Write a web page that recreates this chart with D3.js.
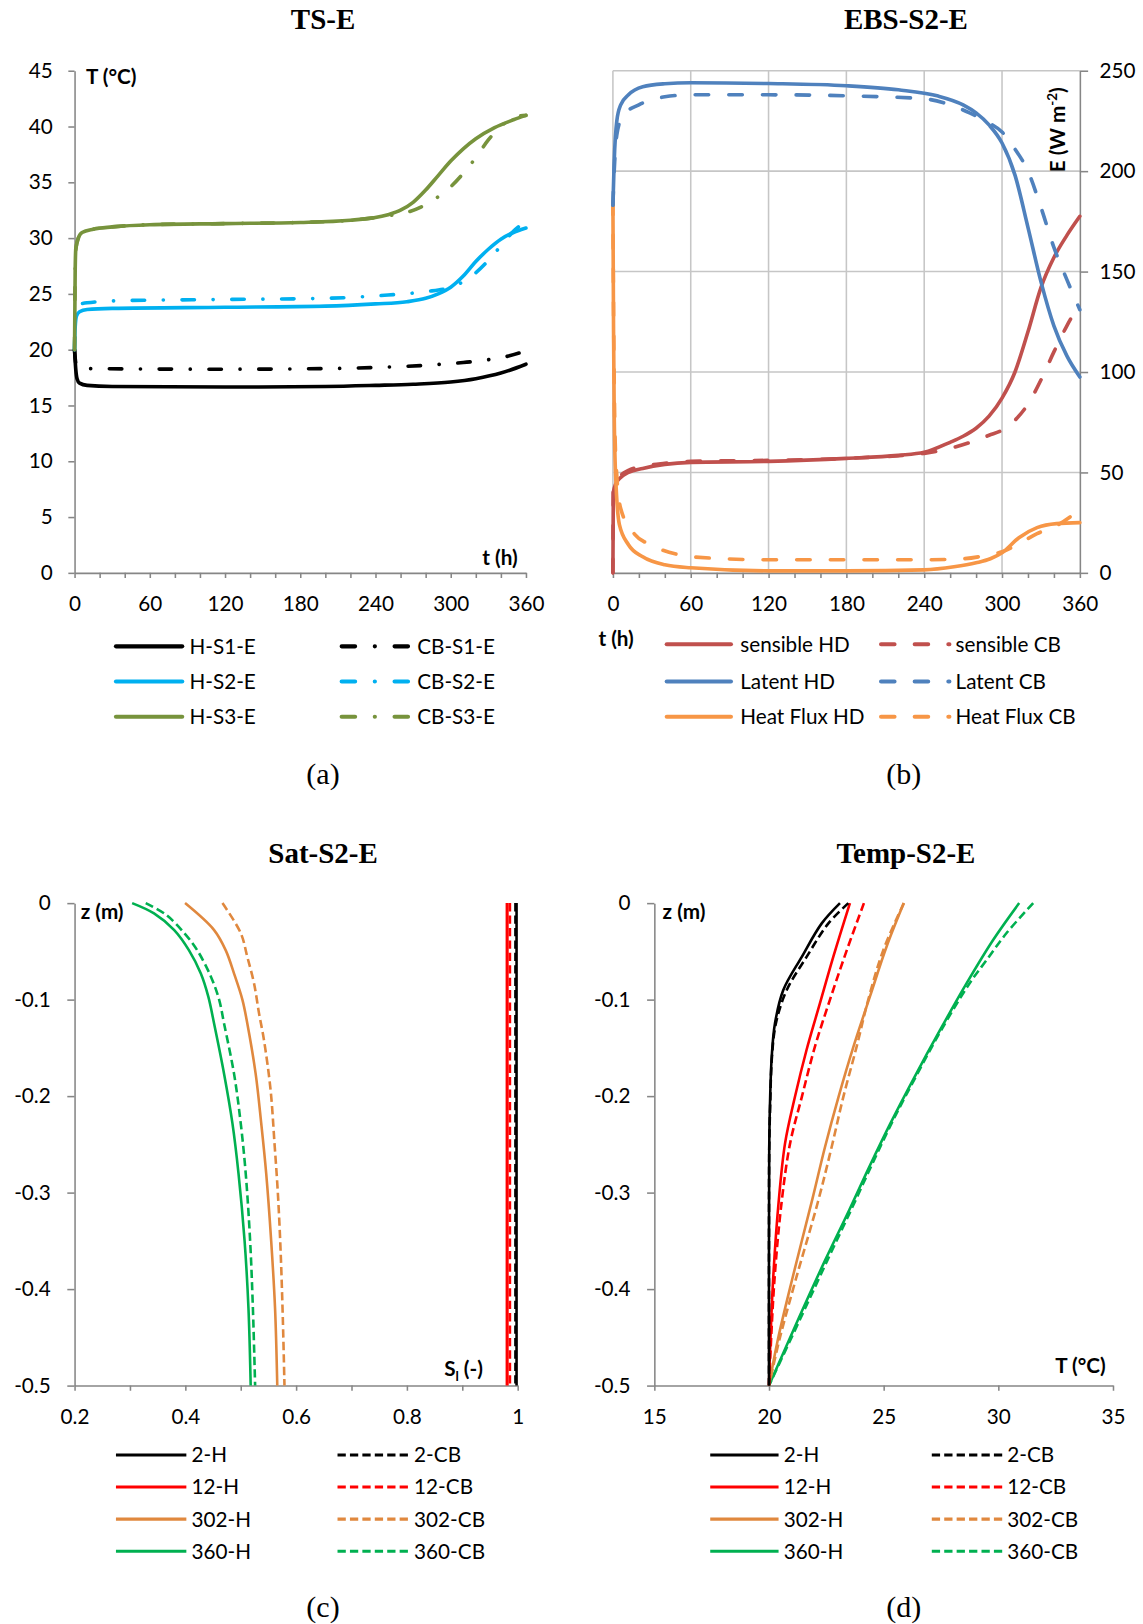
<!DOCTYPE html>
<html>
<head>
<meta charset="utf-8">
<script src="https://cdn.jsdelivr.net/npm/d3@7"></script>
<style>
body { margin: 0; background: #fff; }
svg text { font-family: Lato, "Open Sans", sans-serif; }
</style>
</head>
<body>
<script>
// ---------- (a) TS-E : surface temperature vs time ----------
const tsH_S1 = [[0,20],[1,18.2],[2,17.4],[4,17.0],[10,16.8],[30,16.7],[120,16.65],[200,16.7],[240,16.8],[270,16.9],[300,17.1],[320,17.4],[340,17.9],[360,18.7]];
const tsCB_S1 = [[0,20],[1,18.8],[3,18.4],[10,18.3],[120,18.25],[200,18.3],[240,18.4],[280,18.6],[310,18.85],[330,19.1],[345,19.4],[360,19.9]];
const tsH_S2 = [[0,20],[0.5,22],[1.5,23],[4,23.4],[10,23.6],[30,23.7],[120,23.8],[200,23.9],[240,24.1],[265,24.3],[280,24.6],[290,25.0],[300,25.6],[310,26.6],[320,27.9],[330,29.0],[340,29.9],[350,30.5],[360,30.9]];
const tsCB_S2 = [[0,20],[1,23.5],[3,24.0],[10,24.2],[40,24.4],[120,24.5],[200,24.6],[250,24.9],[280,25.2],[300,25.6],[310,26.1],[320,26.9],[330,28.0],[340,29.3],[350,30.6],[360,31.5]];
const tsH_S3 = [[0,20],[0.5,27],[1,29],[3,30.0],[6,30.5],[15,30.8],[30,31.0],[60,31.2],[120,31.3],[180,31.4],[220,31.6],[250,32.1],[260,32.5],[270,33.2],[280,34.3],[290,35.6],[300,36.9],[310,38.0],[320,38.9],[335,39.9],[350,40.6],[360,41.0]];
const tsCB_S3 = [[0,20],[0.5,27],[1,29],[3,30.0],[6,30.5],[15,30.8],[30,31.0],[60,31.2],[120,31.3],[180,31.4],[220,31.6],[250,32.0],[265,32.3],[280,33.0],[290,33.7],[300,34.6],[310,35.8],[320,37.2],[330,38.8],[340,40.0],[350,40.8],[360,41.0]];

// ---------- (b) EBS-S2-E : energy balance vs time ----------
const sensHD = [[0,0],[0.3,40],[2,44],[6,47.5],[12,50],[23,52],[40,54],[60,55],[120,55.5],[180,57],[220,58.5],[240,60],[260,65],[270,68],[280,72],[290,78],[300,87],[310,100],[320,120],[330,142],[340,157],[350,168],[360,177.5]];
const sensCB = [[0,0],[0.3,40],[2,45],[6,48.5],[12,51],[23,53],[40,54.5],[60,55.5],[120,56],[180,57],[240,59.5],[260,62],[280,66],[290,68.5],[300,71],[310,76],[320,84],[330,96],[340,110],[350,123],[360,134]];
const latHD = [[0,183],[1,205],[3,225],[6,233],[12,238],[23,242],[40,243.5],[60,244],[120,243.6],[180,242.5],[220,240.5],[250,237.5],[270,233],[280,229],[290,223],[300,214],[310,198],[320,172],[330,145],[340,123],[350,108],[360,97.5]];
const latCB = [[0,183],[1,200],[3,218],[8,228],[20,233],[40,237],[60,238],[120,238],[180,237.5],[240,236],[260,233],[275,229],[290,224],[300,219.5],[310,211],[320,200],[330,182],[340,162],[350,146],[360,131]];
const fluxHD = [[0,185],[0.5,120],[1,80],[2,50],[5,24],[12,14],[23,8],[40,4],[60,2.5],[120,1],[180,1],[240,1.5],[263,3],[280,5],[291,7],[300,10],[313,17.5],[327,22.5],[342,24.5],[360,25]];
const fluxCB = [[0,185],[0.5,130],[1,95],[2,60],[6,32],[17,19],[29,14],[51,9],[60,8],[120,6.5],[180,6.5],[240,6.5],[270,7],[290,9],[300,10.5],[313,14.5],[327,19.5],[342,23.5],[360,31.5]];

// ---------- (c) Sat-S2-E : saturation profiles [Sl, z] ----------
const satH2 = [[0.998,0],[0.998,-0.5]];
const satCB2 = [[0.996,0],[0.996,-0.5]];
const satH12 = [[0.981,0],[0.981,-0.5]];
const satCB12 = [[0.986,0],[0.986,-0.5]];
const satH302 = [[0.3995,0],[0.452,-0.028],[0.473,-0.049],[0.488,-0.073],[0.503,-0.1],[0.512,-0.125],[0.527,-0.177],[0.537,-0.228],[0.546,-0.28],[0.555,-0.35],[0.562,-0.42],[0.566,-0.5]];
const satCB302 = [[0.467,0],[0.500,-0.031],[0.512,-0.056],[0.524,-0.083],[0.533,-0.114],[0.542,-0.142],[0.554,-0.194],[0.561,-0.249],[0.567,-0.3],[0.572,-0.36],[0.576,-0.43],[0.579,-0.5]];
const satH360 = [[0.304,0],[0.3435,-0.0107],[0.380,-0.028],[0.4067,-0.049],[0.428,-0.073],[0.4415,-0.097],[0.452,-0.125],[0.470,-0.177],[0.485,-0.228],[0.496,-0.28],[0.507,-0.35],[0.514,-0.42],[0.518,-0.5]];
const satCB360 = [[0.3285,0],[0.365,-0.012],[0.398,-0.031],[0.4217,-0.049],[0.446,-0.076],[0.461,-0.1],[0.470,-0.125],[0.488,-0.177],[0.500,-0.228],[0.509,-0.28],[0.517,-0.35],[0.522,-0.42],[0.526,-0.5]];

// ---------- (d) Temp-S2-E : temperature profiles [T, z] ----------
const tempH2 = [[23.095,0],[22.30,-0.021],[21.43,-0.0557],[20.62,-0.0903],[20.26,-0.1248],[20.12,-0.159],[20.04,-0.211],[20.01,-0.256],[20.0,-0.35],[20.0,-0.5]];
const tempCB2 = [[23.46,0],[22.59,-0.021],[21.64,-0.0557],[20.77,-0.0903],[20.3,-0.1248],[20.13,-0.159],[20.05,-0.211],[20.01,-0.256],[20.0,-0.35],[20.0,-0.5]];
const tempH12 = [[23.53,0],[22.80,-0.056],[22.22,-0.104],[21.64,-0.152],[21.13,-0.201],[20.70,-0.249],[20.42,-0.31],[20.18,-0.39],[20.04,-0.468],[20,-0.5]];
const tempCB12 = [[24.14,0],[23.39,-0.049],[22.66,-0.1],[22.0,-0.149],[21.43,-0.201],[20.92,-0.249],[20.55,-0.31],[20.24,-0.39],[20.06,-0.468],[20,-0.5]];
const tempH302 = [[25.88,0],[25.13,-0.045],[24.40,-0.097],[23.68,-0.149],[23.03,-0.201],[22.44,-0.253],[21.9,-0.306],[21.02,-0.389],[20.39,-0.452],[20,-0.5]];
const tempCB302 = [[25.88,0],[24.98,-0.049],[24.33,-0.1],[23.82,-0.149],[23.24,-0.201],[22.73,-0.253],[22.13,-0.31],[21.18,-0.389],[20.46,-0.452],[20,-0.5]];
const tempH360 = [[30.91,0],[29.78,-0.038],[28.62,-0.083],[27.45,-0.132],[26.35,-0.18],[25.3,-0.228],[24.4,-0.272],[23.5,-0.318],[22.45,-0.37],[21.3,-0.43],[20,-0.5]];
const tempCB360 = [[31.52,0],[30.36,-0.031],[29.49,-0.059],[28.75,-0.083],[27.5,-0.132],[26.4,-0.18],[25.35,-0.228],[24.47,-0.272],[23.58,-0.318],[22.55,-0.37],[21.38,-0.43],[20,-0.5]];

// ticks
const tTicks = [0,20,40,60,80,100,120,140,160,180,200,220,240,260,280,300,320,340,360];
const tLabels = [0,60,120,180,240,300,360];
const tempTicksA = [0,5,10,15,20,25,30,35,40,45];
const eTicks = [0,50,100,150,200,250];
const satTicks = [0.2,0.3,0.4,0.5,0.6,0.7,0.8,0.9,1];
const satLabels = [0.2,0.4,0.6,0.8,1];
const zTicks = [0,-0.1,-0.2,-0.3,-0.4,-0.5];
const tempTicksD = [15,20,25,30,35];

var svg = d3.select("body").append("svg")
    .attr("width", 1143)
    .attr("height", 1624)
    .attr("viewBox", "0 0 1104 1568");

var axisGrey = "#868686";

function styleAxis(g) {
    g.select(".domain").attr("stroke", axisGrey).attr("stroke-width", 1.5);
    g.selectAll(".tick line").attr("stroke", axisGrey).attr("stroke-width", 1.5);
    g.selectAll(".tick text").attr("fill", "#000")
        .style("font-size", "20px").style("font-family", "Lato, sans-serif");
}

function labelIf(list) {
    return function(d) {
        return list.some(function(v) { return Math.abs(v - d) < 1e-9; }) ? String(+d.toFixed(2)) : "";
    };
}

function drawLine(x, y, data, color, width, dash, curve, cap) {
    svg.append("path").datum(data)
        .attr("fill", "none")
        .attr("stroke", color)
        .attr("stroke-width", width)
        .attr("stroke-dasharray", dash || null)
        .attr("stroke-linecap", cap || "butt")
        .attr("stroke-linejoin", "round")
        .attr("d", d3.line().x(function(d) { return x(d[0]); }).y(function(d) { return y(d[1]); }).curve(curve));
}

function title(txt, cx, by) {
    svg.append("text").attr("x", cx).attr("y", by)
        .attr("text-anchor", "middle")
        .style("font-family", "'Liberation Serif', serif")
        .style("font-weight", "bold").style("font-size", "28px")
        .text(txt);
}

function subLabel(txt, cx, by) {
    svg.append("text").attr("x", cx).attr("y", by)
        .attr("text-anchor", "middle")
        .style("font-family", "'Liberation Serif', serif")
        .style("font-size", "29px")
        .text(txt);
}

function boldLabel(txt, x, y, anchor) {
    return svg.append("text").attr("x", x).attr("y", y)
        .attr("text-anchor", anchor || "start")
        .style("font-weight", "bold").style("font-size", "20px")
        .text(txt);
}

function legend(items, rows, cols, width, cap) {
    items.forEach(function(it, i) {
        var c = cols[Math.floor(i / rows.length)], r = rows[i % rows.length];
        svg.append("line").attr("x1", c[0]).attr("x2", c[1]).attr("y1", r).attr("y2", r)
            .attr("stroke", it.color).attr("stroke-width", width)
            .attr("stroke-linecap", cap || "butt")
            .attr("stroke-dasharray", it.dash || null);
        svg.append("text").attr("x", c[2]).attr("y", r).attr("dy", "0.36em")
            .style("font-size", "20px").text(it.label);
    });
}

// ================= (a) =================
(function() {
    var x = d3.scaleLinear().domain([0, 360]).range([72, 508]);
    var y = d3.scaleLinear().domain([0, 45]).range([553, 68]);
    var dash = "12,18,0.1,18";

    svg.append("g").attr("transform", "translate(0,553)")
        .call(d3.axisBottom(x).tickValues(tTicks).tickSize(5).tickSizeOuter(0).tickPadding(18).tickFormat(labelIf(tLabels)))
        .call(styleAxis);
    svg.append("g").attr("transform", "translate(72,0)")
        .call(d3.axisLeft(y).tickValues(tempTicksA).tickSize(6).tickSizeOuter(0).tickPadding(15))
        .call(styleAxis);

    drawLine(x, y, tsH_S1, "#000000", 3.5, null, d3.curveMonotoneX, "round");
    drawLine(x, y, tsCB_S1, "#000000", 3.5, dash, d3.curveMonotoneX, "round");
    drawLine(x, y, tsH_S2, "#00B0F0", 3.5, null, d3.curveMonotoneX, "round");
    drawLine(x, y, tsCB_S2, "#00B0F0", 3.5, dash, d3.curveMonotoneX, "round");
    drawLine(x, y, tsH_S3, "#77933C", 3.5, null, d3.curveMonotoneX, "round");
    drawLine(x, y, tsCB_S3, "#77933C", 3.5, dash, d3.curveMonotoneX, "round");

    title("TS-E", 312, 28);
    boldLabel("T (°C)", 83, 81);
    boldLabel("t (h)", 500, 545, "end");

    var legDash = "13,19,0.1,19";
    legend([
        {label: "H-S1-E", color: "#000000"},
        {label: "H-S2-E", color: "#00B0F0"},
        {label: "H-S3-E", color: "#77933C"},
        {label: "CB-S1-E", color: "#000000", dash: legDash},
        {label: "CB-S2-E", color: "#00B0F0", dash: legDash},
        {label: "CB-S3-E", color: "#77933C", dash: legDash}
    ], [624, 658, 692], [[112, 176, 183], [330, 396, 403]], 4, "round");

    subLabel("(a)", 312, 757);
})();

// ================= (b) =================
(function() {
    var x = d3.scaleLinear().domain([0, 360]).range([592, 1043]);
    var y = d3.scaleLinear().domain([0, 250]).range([553, 68]);
    var dash = "13,19.5";

    // gridlines
    svg.append("g").selectAll("line").data(tLabels.slice(0, -1)).enter().append("line")
        .attr("x1", function(d) { return x(d); }).attr("x2", function(d) { return x(d); })
        .attr("y1", y(0)).attr("y2", y(250))
        .attr("stroke", "#c6c6c6").attr("stroke-width", 1.5);
    svg.append("g").selectAll("line").data(eTicks.slice(1)).enter().append("line")
        .attr("x1", x(0)).attr("x2", x(360))
        .attr("y1", function(d) { return y(d); }).attr("y2", function(d) { return y(d); })
        .attr("stroke", "#c6c6c6").attr("stroke-width", 1.5);

    svg.append("g").attr("transform", "translate(0,553)")
        .call(d3.axisBottom(x).tickValues(tTicks).tickSize(5).tickSizeOuter(0).tickPadding(18).tickFormat(labelIf(tLabels)))
        .call(styleAxis);
    svg.append("g").attr("transform", "translate(1043,0)")
        .call(d3.axisRight(y).tickValues(eTicks).tickSize(8).tickSizeOuter(0).tickPadding(11))
        .call(styleAxis);

    drawLine(x, y, sensHD, "#C0504D", 3.5, null, d3.curveMonotoneX, "round");
    drawLine(x, y, sensCB, "#C0504D", 3.5, dash, d3.curveMonotoneX, "round");
    drawLine(x, y, fluxHD, "#F79646", 3.5, null, d3.curveMonotoneX, "round");
    drawLine(x, y, fluxCB, "#F79646", 3.5, dash, d3.curveMonotoneX, "round");
    drawLine(x, y, latHD, "#4F81BD", 3.5, null, d3.curveMonotoneX, "round");
    drawLine(x, y, latCB, "#4F81BD", 3.5, dash, d3.curveMonotoneX, "round");

    title("EBS-S2-E", 875, 28);
    var e = boldLabel("", 0, 0, "middle").attr("transform", "translate(1029,125) rotate(-90)");
    e.append("tspan").text("E (W m");
    e.append("tspan").attr("dy", -8).style("font-size", "13px").text("-2");
    e.append("tspan").attr("dy", 8).text(")");
    boldLabel("t (h)", 578, 624);

    legend([
        {label: "sensible HD", color: "#C0504D"},
        {label: "Latent HD", color: "#4F81BD"},
        {label: "Heat Flux HD", color: "#F79646"},
        {label: "sensible CB", color: "#C0504D", dash: dash},
        {label: "Latent CB", color: "#4F81BD", dash: dash},
        {label: "Heat Flux CB", color: "#F79646", dash: dash}
    ], [622, 658, 692], [[644, 706, 715], [851, 917, 923]], 4, "round");

    subLabel("(b)", 873, 757);
})();

// ================= (c) =================
(function() {
    var x = d3.scaleLinear().domain([0.2, 1]).range([72, 500]);
    var y = d3.scaleLinear().domain([-0.5, 0]).range([1338, 872]);
    var dash = "8,4";
    var curve = d3.curveCatmullRom.alpha(0.5);

    svg.append("g").attr("transform", "translate(0,1338)")
        .call(d3.axisBottom(x).tickValues(satTicks).tickSize(5).tickSizeOuter(0).tickPadding(18).tickFormat(labelIf(satLabels)))
        .call(styleAxis);
    svg.append("g").attr("transform", "translate(72,0)")
        .call(d3.axisLeft(y).tickValues(zTicks).tickSize(7).tickSizeOuter(0).tickPadding(16).tickFormat(function(d) { return String(+d.toFixed(1)); }))
        .call(styleAxis);

    drawLine(x, y, satH360, "#00B050", 2.5, null, curve);
    drawLine(x, y, satCB360, "#00B050", 2.5, dash, curve);
    drawLine(x, y, satH302, "#E0883E", 2.5, null, curve);
    drawLine(x, y, satCB302, "#E0883E", 2.5, dash, curve);
    drawLine(x, y, satH12, "#FF0000", 3, null, d3.curveLinear);
    drawLine(x, y, satCB12, "#FF0000", 2.5, dash, d3.curveLinear);
    drawLine(x, y, satCB2, "#000000", 2.5, dash, d3.curveLinear);
    drawLine(x, y, satH2, "#000000", 2.5, null, d3.curveLinear);

    title("Sat-S2-E", 312, 833);
    boldLabel("z (m)", 78, 887);
    var s = boldLabel("S", 429, 1329);
    s.append("tspan").attr("dy", 5).style("font-size", "13px").text("l");
    s.append("tspan").attr("dy", -5).text(" (-)");

    legend([
        {label: "2-H", color: "#000000"},
        {label: "12-H", color: "#FF0000"},
        {label: "302-H", color: "#E0883E"},
        {label: "360-H", color: "#00B050"},
        {label: "2-CB", color: "#000000", dash: dash},
        {label: "12-CB", color: "#FF0000", dash: dash},
        {label: "302-CB", color: "#E0883E", dash: dash},
        {label: "360-CB", color: "#00B050", dash: dash}
    ], [1405, 1436, 1467, 1498], [[112, 180, 185], [326, 395, 400]], 3);

    subLabel("(c)", 312, 1562);
})();

// ================= (d) =================
(function() {
    var x = d3.scaleLinear().domain([15, 35]).range([632, 1075]);
    var y = d3.scaleLinear().domain([-0.5, 0]).range([1338, 872]);
    var dash = "8,4";
    var curve = d3.curveCatmullRom.alpha(0.5);

    svg.append("g").attr("transform", "translate(0,1338)")
        .call(d3.axisBottom(x).tickValues(tempTicksD).tickSize(5).tickSizeOuter(0).tickPadding(18))
        .call(styleAxis);
    svg.append("g").attr("transform", "translate(632,0)")
        .call(d3.axisLeft(y).tickValues(zTicks).tickSize(7).tickSizeOuter(0).tickPadding(16).tickFormat(function(d) { return String(+d.toFixed(1)); }))
        .call(styleAxis);

    drawLine(x, y, tempH360, "#00B050", 2.5, null, curve);
    drawLine(x, y, tempCB360, "#00B050", 2.5, dash, curve);
    drawLine(x, y, tempH302, "#E0883E", 2.5, null, curve);
    drawLine(x, y, tempCB302, "#E0883E", 2.5, dash, curve);
    drawLine(x, y, tempH12, "#FF0000", 2.5, null, curve);
    drawLine(x, y, tempCB12, "#FF0000", 2.5, dash, curve);
    drawLine(x, y, tempH2, "#000000", 2.5, null, curve);
    drawLine(x, y, tempCB2, "#000000", 2.5, dash, curve);

    title("Temp-S2-E", 875, 833);
    boldLabel("z (m)", 640, 887);
    boldLabel("T (°C)", 1068, 1326, "end");

    legend([
        {label: "2-H", color: "#000000"},
        {label: "12-H", color: "#FF0000"},
        {label: "302-H", color: "#E0883E"},
        {label: "360-H", color: "#00B050"},
        {label: "2-CB", color: "#000000", dash: dash},
        {label: "12-CB", color: "#FF0000", dash: dash},
        {label: "302-CB", color: "#E0883E", dash: dash},
        {label: "360-CB", color: "#00B050", dash: dash}
    ], [1405, 1436, 1467, 1498], [[686, 752, 757], [900, 968, 973]], 3);

    subLabel("(d)", 873, 1562);
})();
</script>
</body>
</html>
